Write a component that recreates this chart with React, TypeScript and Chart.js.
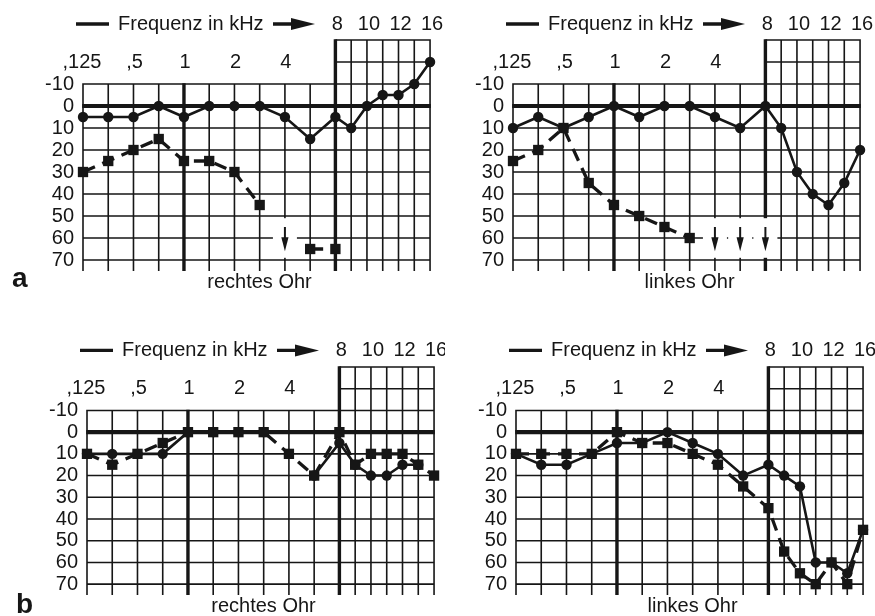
import React, { useEffect, useRef } from 'react';
import { Chart, registerables } from 'chart.js';

Chart.register(...registerables);

// ---------- data ----------
const frequencies = ['0.125', '0.25', '0.5', '0.75', '1', '1.5', '2', '3', '4', '6', '8', '9', '10', '11', '12', '14', '16'];
const lowTickFreqs = ['0.125', '0.5', '1', '2', '4'];
const lowTickLabels = [',125', ',5', '1', '2', '4'];
const highTickFreqs = ['8', '10', '12', '16'];
const highTickLabels = ['8', '10', '12', '16'];
const levelTicks = [-10, 0, 10, 20, 30, 40, 50, 60, 70];
const highLevelLines = [-30, -20, -10, 0, 10, 20, 30, 40, 50, 60, 70];

// panel a, rechtes Ohr
const aRechtsCircles = [5, 5, 5, 0, 5, 0, 0, 0, 5, 15, 5, 10, 0, -5, -5, -10, -20];
const aRechtsSquares = [30, 25, 20, 15, 25, 25, 30, 45, null, 65, 65, null, null, null, null, null, null];
const aRechtsArrows = [null, null, null, null, null, null, null, null, 65, null, null, null, null, null, null, null, null];

// panel a, linkes Ohr
const aLinksCircles = [10, 5, 10, 5, 0, 5, 0, 0, 5, 10, 0, 10, 30, 40, 45, 35, 20];
const aLinksSquares = [25, 20, 10, 35, 45, 50, 55, 60, null, null, null, null, null, null, null, null, null];
const aLinksArrows = [null, null, null, null, null, null, null, null, 65, 65, 65, null, null, null, null, null, null];

// panel b, rechtes Ohr
const bRechtsCircles = [10, 10, 10, 10, 0, 0, 0, 0, null, 20, 5, 15, 20, 20, 15, 15, null];
const bRechtsSquares = [10, 15, 10, 5, 0, 0, 0, 0, 10, 20, 0, 15, 10, 10, 10, 15, 20];
const bRechtsArrows = [null, null, null, null, null, null, null, null, null, null, null, null, null, null, null, null, null];

// panel b, linkes Ohr
const bLinksCircles = [10, 15, 15, 10, 5, 5, 0, 5, 10, 20, 15, 20, 25, 60, 60, 65, 45];
const bLinksSquares = [10, 10, 10, 10, 0, 5, 5, 10, 15, 25, 35, 55, 65, 70, 60, 70, 45];
const bLinksArrows = [null, null, null, null, null, null, null, null, null, null, null, null, null, null, null, null, null];

// ---------- styling / layout ----------
const INK = '#161616';
const FONT = '"Liberation Sans", Arial, sans-serif';

// frequency -> position on the x axis (octave columns 8 units, high-frequency columns 5 units)
const freqPos = (f: string) => {
  const i = frequencies.indexOf(f);
  return i <= 10 ? i * 8 : 80 + (i - 10) * 5;
};

type PanelCfg = {
  key: string;
  left: number; top: number; w: number; h: number;
  gridL: number; yTop: number; earDy: number;
  ear: string; letter?: string; letterX?: number; letterY?: number;
  circles: (number | null)[]; squares: (number | null)[]; arrows: (number | null)[];
};

const panels: PanelCfg[] = [
  { key: 'aR', left: 0, top: 0, w: 445, h: 308, gridL: 83, yTop: 84, earDy: 198, ear: 'rechtes Ohr', letter: 'a', letterX: 12, letterY: 287, circles: aRechtsCircles, squares: aRechtsSquares, arrows: aRechtsArrows },
  { key: 'aL', left: 435, top: 0, w: 440, h: 308, gridL: 78, yTop: 84, earDy: 198, ear: 'linkes Ohr', circles: aLinksCircles, squares: aLinksSquares, arrows: aLinksArrows },
  { key: 'bR', left: 0, top: 308, w: 445, h: 308, gridL: 87, yTop: 103, earDy: 196, ear: 'rechtes Ohr', letter: 'b', letterX: 16, letterY: 305, circles: bRechtsCircles, squares: bRechtsSquares, arrows: bRechtsArrows },
  { key: 'bL', left: 435, top: 308, w: 440, h: 308, gridL: 81, yTop: 103, earDy: 196, ear: 'linkes Ohr', circles: bLinksCircles, squares: bLinksSquares, arrows: bLinksArrows },
];

const PX_PER_UNIT = 3.155;
const PX_PER_DB = 2.2;

const toPoints = (vals: (number | null)[]) =>
  frequencies.map((f, i) => ({ x: freqPos(f), y: vals[i] }));

const makePlugin = (p: PanelCfg) => ({
  id: 'audiogram_' + p.key,
  beforeDatasetsDraw(chart: any) {
    const { ctx } = chart;
    const xs = chart.scales.x;
    const ys = chart.scales.y;
    const X = (u: number) => xs.getPixelForValue(u);
    const Y = (v: number) => ys.getPixelForValue(v);
    ctx.save();
    ctx.strokeStyle = INK;
    ctx.lineCap = 'butt';

    // thin grid
    ctx.lineWidth = 1.6;
    ctx.beginPath();
    levelTicks.forEach((v) => {
      if (v === 0) return;
      ctx.moveTo(X(0) - 0.8, Y(v));
      ctx.lineTo(X(80), Y(v));
    });
    highLevelLines.forEach((v) => {
      if (v === 0) return;
      ctx.moveTo(X(80), Y(v));
      ctx.lineTo(X(110) + 0.8, Y(v));
    });
    frequencies.forEach((f, i) => {
      const u = freqPos(f);
      if (f === '1' || f === '8') return;
      const top = i <= 10 ? Y(-10) : Y(-30);
      ctx.moveTo(X(u), top - 0.8);
      ctx.lineTo(X(u), Y(75));
    });
    ctx.stroke();

    // thick lines
    ctx.lineWidth = 4.2;
    ctx.beginPath();
    ctx.moveTo(X(0) - 0.8, Y(0));
    ctx.lineTo(X(110) + 0.8, Y(0));
    ctx.stroke();
    ctx.lineWidth = 3.4;
    ctx.beginPath();
    ctx.moveTo(X(freqPos('1')), Y(-10) - 0.8);
    ctx.lineTo(X(freqPos('1')), Y(75));
    ctx.moveTo(X(freqPos('8')), Y(-30) - 0.8);
    ctx.lineTo(X(freqPos('8')), Y(75));
    ctx.stroke();

    // no-response arrows
    p.arrows.forEach((lvl, i) => {
      if (lvl === null) return;
      const x = X(freqPos(frequencies[i]));
      ctx.fillStyle = '#fff';
      ctx.fillRect(x - 12, Y(lvl - 14), 24, Y(lvl + 4) - Y(lvl - 14));
      const tip = Y(lvl + 1);
      ctx.strokeStyle = INK;
      ctx.lineWidth = 2;
      ctx.beginPath();
      ctx.moveTo(x, Y(lvl - 10));
      ctx.lineTo(x, tip - 12);
      ctx.stroke();
      ctx.fillStyle = INK;
      ctx.beginPath();
      ctx.moveTo(x - 3.6, tip - 14);
      ctx.lineTo(x + 3.6, tip - 14);
      ctx.lineTo(x, tip);
      ctx.closePath();
      ctx.fill();
    });

    // texts
    ctx.fillStyle = INK;
    ctx.font = `20px ${FONT}`;
    ctx.textBaseline = 'middle';
    ctx.textAlign = 'center';
    const yLab = Y(-10) - 22;
    lowTickFreqs.forEach((f, k) => {
      ctx.fillText(lowTickLabels[k], X(freqPos(f)) + (k === 0 ? -1 : 1), yLab);
    });
    const yTitle = Y(-10) - 60;
    highTickFreqs.forEach((f, k) => {
      ctx.fillText(highTickLabels[k], X(freqPos(f)) + 2, yTitle);
    });
    const g0 = X(0);
    ctx.lineWidth = 3.3;
    ctx.beginPath();
    ctx.moveTo(g0 - 7, yTitle);
    ctx.lineTo(g0 + 26, yTitle);
    ctx.moveTo(g0 + 190, yTitle);
    ctx.lineTo(g0 + 212, yTitle);
    ctx.stroke();
    ctx.beginPath();
    ctx.moveTo(g0 + 208, yTitle - 6);
    ctx.lineTo(g0 + 232, yTitle);
    ctx.lineTo(g0 + 208, yTitle + 6);
    ctx.closePath();
    ctx.fill();
    ctx.textAlign = 'left';
    ctx.fillText('Frequenz in kHz', g0 + 35, yTitle);

    ctx.textAlign = 'center';
    ctx.fillText(p.ear, (X(0) + X(110)) / 2 + 3, Y(-10) + p.earDy);

    if (p.letter) {
      ctx.font = `bold 28px ${FONT}`;
      ctx.textAlign = 'left';
      ctx.textBaseline = 'alphabetic';
      ctx.fillText(p.letter, p.letterX, p.letterY);
    }
    ctx.restore();
  },
});

function Panel({ p }: { p: PanelCfg }) {
  const ref = useRef<HTMLCanvasElement>(null);
  useEffect(() => {
    if (!ref.current) return;
    const areaW = 110 * PX_PER_UNIT;
    const areaTop = p.yTop - 20 * PX_PER_DB;
    const areaBottom = p.yTop + 85 * PX_PER_DB;
    const chart = new Chart(ref.current, {
      type: 'line',
      data: {
        datasets: [
          {
            label: 'circles',
            data: toPoints(p.circles) as any,
            borderColor: INK,
            backgroundColor: INK,
            borderWidth: 2.6,
            pointStyle: 'circle',
            pointRadius: 5.2,
            pointBorderWidth: 0,
            pointBackgroundColor: INK,
            spanGaps: false,
            tension: 0,
            clip: false as any,
          },
          {
            label: 'squares',
            data: toPoints(p.squares) as any,
            borderColor: INK,
            backgroundColor: INK,
            borderWidth: 3.3,
            borderDash: [13, 8],
            pointStyle: 'rect',
            pointRadius: 7.3,
            pointBorderWidth: 0,
            pointBackgroundColor: INK,
            spanGaps: false,
            tension: 0,
            clip: false as any,
          },
        ],
      },
      options: {
        animation: false,
        responsive: false,
        devicePixelRatio: 1,
        events: [],
        layout: {
          padding: {
            left: 0,
            top: areaTop,
            right: p.w - (p.gridL + areaW),
            bottom: p.h - areaBottom,
          },
        },
        plugins: { legend: { display: false }, tooltip: { enabled: false }, title: { display: false } },
        scales: {
          x: { type: 'linear', min: 0, max: 110, display: false },
          y: {
            type: 'linear',
            min: -30,
            max: 75,
            reverse: true,
            grid: { display: false, drawTicks: false },
            border: { display: false },
            ticks: { color: INK, font: { family: FONT, size: 20 }, padding: 9, autoSkip: false },
            afterBuildTicks: (axis: any) => {
              axis.ticks = levelTicks.map((v) => ({ value: v }));
            },
            afterFit: (axis: any) => {
              axis.width = p.gridL;
            },
          },
        },
      },
      plugins: [makePlugin(p)],
    });
    return () => chart.destroy();
  }, []);
  return (
    <canvas
      ref={ref}
      width={p.w}
      height={p.h}
      style={{ position: 'absolute', left: p.left, top: p.top, width: p.w, height: p.h }}
    />
  );
}

export default function App() {
  return (
    <div style={{ position: 'fixed', left: 0, top: 0, width: 875, height: 616, background: '#fff', overflow: 'hidden' }}>
      {panels.map((p) => (
        <Panel key={p.key} p={p} />
      ))}
    </div>
  );
}
